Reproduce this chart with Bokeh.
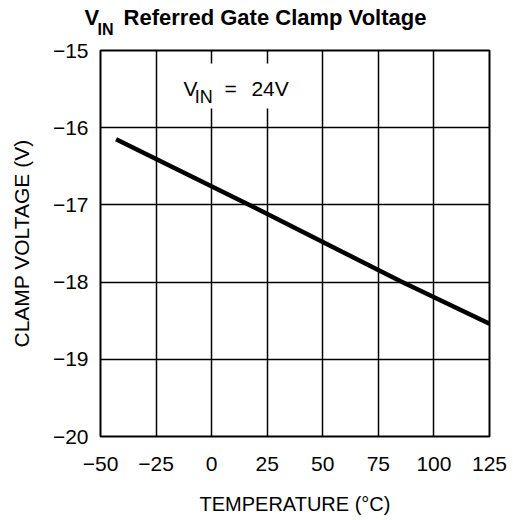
from bokeh.plotting import figure
from bokeh.models import Label, BoxAnnotation, FixedTicker, Range1d
from bokeh.embed import file_html
from bokeh.resources import INLINE

# ---- data ----
temperature_c = [-43, 17, 85, 125]
clamp_voltage_v = [-16.15, -17.0, -17.99, -18.54]
x_ticks = [-50, -25, 0, 25, 50, 75, 100, 125]
y_ticks = [-20, -19, -18, -17, -16, -15]
title_main = "V\u00a0\u00a0\u00a0\u00a0Referred Gate Clamp Voltage"
title_sub = "IN"
note_main = "V"
note_sub = "IN"
note_eq = "="
note_val = "24V"
x_label = "TEMPERATURE (°C)"
y_label = "CLAMP VOLTAGE (V)"

FONT = "'Liberation Sans', Arial, sans-serif"

p = figure(width=513, height=520, title=None,
           x_range=Range1d(-50, 125), y_range=Range1d(-20, -15),
           output_backend="svg", toolbar_location=None,
           min_border_left=100, min_border_right=24,
           min_border_top=50, min_border_bottom=84)
p.background_fill_color = "white"
p.border_fill_color = "white"
p.outline_line_color = "black"
p.outline_line_width = 2

# grid
p.xgrid.ticker = FixedTicker(ticks=x_ticks)
p.ygrid.ticker = FixedTicker(ticks=y_ticks)
for g in (p.xgrid, p.ygrid):
    g.grid_line_color = "black"
    g.grid_line_width = 1.5
    g.grid_line_alpha = 1.0

# axes
p.xaxis.ticker = FixedTicker(ticks=x_ticks)
p.yaxis.ticker = FixedTicker(ticks=y_ticks)
for ax in (p.xaxis, p.yaxis):
    ax.axis_line_color = None
    ax.major_tick_line_color = None
    ax.minor_tick_line_color = None
    ax.major_tick_in = 0
    ax.major_tick_out = 0
    ax.major_label_text_font = FONT
    ax.major_label_text_font_size = "21px"
    ax.major_label_text_color = "black"
    ax.axis_label_text_font = FONT
    ax.axis_label_text_font_style = "normal"
    ax.axis_label_text_color = "black"
p.xaxis.axis_label = x_label
p.yaxis.axis_label = y_label
p.xaxis.axis_label_text_font_size = "20px"
p.yaxis.axis_label_text_font_size = "21px"
p.xaxis.major_label_standoff = 20
p.xaxis.axis_label_standoff = 19
p.yaxis.major_label_standoff = 12
p.yaxis.axis_label_standoff = 17

# data line
p.line(temperature_c, clamp_voltage_v, line_width=4.5, line_color="black",
       line_cap="butt")

# white box behind the in-plot note
box = BoxAnnotation(left=-18.5, right=40, top=-15.168, bottom=-15.751,
                    fill_color="white", fill_alpha=1.0, line_color=None)
p.add_layout(box)

# in-plot note "V_IN = 24V"
def note(x, y, text, size):
    p.add_layout(Label(x=x, y=y, text=text, text_font=FONT,
                       text_font_size=size, text_align="left",
                       text_baseline="alphabetic", text_color="black"))

note(-12.7, -15.492, note_main, "21px")
note(-7.6, -15.596, note_sub, "18px")
note(5.8, -15.492, note_eq, "21px")
note(17.9, -15.492, note_val, "21px")

# title: labels stacked in the panel above the frame
p.add_layout(Label(x=-16, y=33, x_units="screen", y_units="screen",
                   text=title_main, text_font=FONT, text_font_style="bold",
                   text_font_size="22px", text_align="left",
                   text_baseline="alphabetic", text_color="black"), "above")
p.add_layout(Label(x=-3, y=-4, x_units="screen", y_units="screen",
                   text=title_sub, text_font=FONT, text_font_style="bold",
                   text_font_size="16px", text_align="left",
                   text_baseline="alphabetic", text_color="black"), "above")

open("out.html", "w").write(file_html(p, INLINE))
